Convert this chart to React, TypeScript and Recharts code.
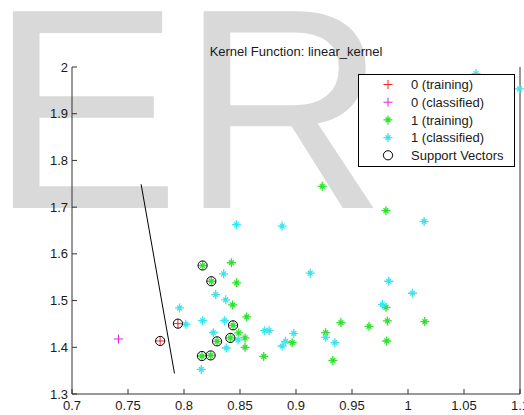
import { ScatterChart, Scatter, XAxis, YAxis, ReferenceLine, Legend } from "recharts"

type Pt = [number, number]

const title = "Kernel Function: linear_kernel"
const backdrop = "ER"

// class 0, training set
const train0: Pt[] = [
  [0.7946, 1.4506],
  [0.7787, 1.4135],
]

// class 0, classified
const classified0: Pt[] = [[0.7415, 1.4178]]

// class 1, training set
const train1: Pt[] = [
  [0.8166, 1.5751], [0.8244, 1.5414], [0.8438, 1.447], [0.8295, 1.4127],
  [0.8414, 1.42], [0.816, 1.3813], [0.8238, 1.3826],
  [0.8423, 1.581], [0.847, 1.538], [0.8434, 1.4907], [0.856, 1.465],
  [0.8488, 1.4307], [0.8545, 1.42], [0.8545, 1.4], [0.8712, 1.3805],
  [0.8966, 1.4099], [0.9264, 1.4313], [0.9401, 1.4528], [0.9652, 1.4449],
  [0.9804, 1.4856], [0.9816, 1.4564], [0.981, 1.4135], [0.9329, 1.3719],
  [1.015, 1.455], [0.9234, 1.7446], [0.9803, 1.6925],
]

// class 1, classified
const classified1: Pt[] = [
  [0.8354, 1.5573], [0.8283, 1.5129], [0.8372, 1.5015], [0.796, 1.4843],
  [0.8017, 1.4491], [0.8166, 1.457], [0.8363, 1.457], [0.8262, 1.4313],
  [0.8483, 1.4157], [0.8378, 1.3985], [0.8154, 1.3526], [0.8721, 1.4356],
  [0.876, 1.4356], [0.8906, 1.4127], [0.8876, 1.4027], [0.8468, 1.6624],
  [0.8876, 1.6595], [0.898, 1.4299], [0.9264, 1.4213], [0.9347, 1.4099],
  [0.9771, 1.4914], [1.004, 1.5157], [1.0144, 1.6695], [0.9127, 1.5586],
  [0.9828, 1.5414], [1.0607, 1.986], [1.0995, 1.953],
]

const supportVectors: Pt[] = [
  [0.7946, 1.4506], [0.7787, 1.4135], [0.8166, 1.5751], [0.8244, 1.5414],
  [0.8438, 1.447], [0.8295, 1.4127], [0.8414, 1.42], [0.816, 1.3813],
  [0.8238, 1.3826],
]

// separating line
const boundary: Pt[] = [
  [0.7617, 1.749],
  [0.7915, 1.344],
]

const xTicks = [0.7, 0.75, 0.8, 0.85, 0.9, 0.95, 1, 1.05, 1.1]
const yTicks = [1.3, 1.4, 1.5, 1.6, 1.7, 1.8, 1.9, 2]

const FONT = '"Liberation Sans", Arial, Helvetica, sans-serif'
const AXIS = "#333"
const RED = "#ee2424"
const MAGENTA = "#e024e0"
const GREEN = "#2fe22f"
const CYAN = "#3ee3ee"

const rows = (pts: Pt[]) => pts.map(([x, y]) => ({ x, y }))
const fmt = (v: number) => String(+v.toFixed(2))

type Marker = "plus" | "star" | "circle"

function MarkerGlyph({ kind, cx, cy, color }: { kind: Marker; cx: number; cy: number; color: string }) {
  if (kind === "circle") {
    return <circle cx={cx} cy={cy} r={4.6} fill="none" stroke={color} strokeWidth={1} />
  }
  const r = 4.5
  let d = `M${cx - r},${cy}H${cx + r}M${cx},${cy - r}V${cy + r}`
  if (kind === "star") {
    const k = 2.4
    d += `M${cx - k},${cy - k}L${cx + k},${cy + k}M${cx - k},${cy + k}L${cx + k},${cy - k}`
  }
  return <path d={d} stroke={color} strokeWidth={kind === "star" ? 1.3 : 1} fill="none" />
}

const series: [string, Pt[]][] = [
  ["0 (training)", train0],
  ["0 (classified)", classified0],
  ["1 (training)", train1],
  ["1 (classified)", classified1],
  ["Support Vectors", supportVectors],
]

const styles: Record<string, { kind: Marker; color: string }> = {
  "0 (training)": { kind: "plus", color: RED },
  "0 (classified)": { kind: "plus", color: MAGENTA },
  "1 (training)": { kind: "star", color: GREEN },
  "1 (classified)": { kind: "star", color: CYAN },
  "Support Vectors": { kind: "circle", color: "#000" },
}

const seriesOrder = (name: string) => series.findIndex(([n]) => n === name)

function shapeFor(name: string) {
  const s = styles[name]
  return (p: any) => <MarkerGlyph kind={s.kind} cx={p.cx} cy={p.cy} color={s.color} />
}

function BoxLegend({ payload }: { payload?: any[] }) {
  // keep the plotting order rather than the alphabetical one
  const items = [...(payload ?? [])].sort((a, b) => seriesOrder(String(a.value)) - seriesOrder(String(b.value)))
  return (
    <svg width={157} height={93} style={{ display: "block" }}>
      <rect x={0.5} y={0.5} width={156} height={92} fill="#fff" stroke="#000" strokeWidth={1} />
      {items.map((item, i) => {
        const name = String(item.value)
        const s = styles[name]
        const cy = 10.5 + i * 17.7
        return (
          <g key={name}>
            {s && <MarkerGlyph kind={s.kind} cx={30} cy={cy} color={s.color} />}
            <text x={53} y={cy} dy="0.36em" fontSize={13} fontFamily={FONT} fill="#1a1a1a">
              {name}
            </text>
          </g>
        )
      })}
    </svg>
  )
}

export default function App() {
  const tickStyle = { fontSize: 13, fontFamily: FONT, fill: "#1a1a1a" }
  return (
    <div style={{ position: "fixed", left: 0, top: 0, width: 524, height: 415, overflow: "hidden", background: "#fff" }}>
      <svg width={524} height={415} style={{ position: "absolute", left: 0, top: 0 }}>
        <text x={-10.6} y={208} fontSize={286} fontFamily={FONT} fill="#d9d9d9">
          {backdrop}
        </text>
      </svg>
      <div style={{ position: "absolute", left: 0, top: 0 }}>
        <ScatterChart width={560} height={415} margin={{ top: 67, right: 0, bottom: 0, left: 0 }}>
          <XAxis
            xAxisId="b"
            type="number"
            dataKey="x"
            domain={[0.7, 1.1]}
            ticks={xTicks}
            tickFormatter={fmt}
            height={21}
            tickSize={-5}
            tickMargin={12}
            tick={tickStyle}
            axisLine={{ stroke: AXIS }}
            tickLine={{ stroke: AXIS }}
          />
          <XAxis
            xAxisId="t"
            orientation="top"
            type="number"
            domain={[0.7, 1.1]}
            ticks={xTicks}
            height={0}
            tickSize={-5}
            tick={false}
            axisLine={{ stroke: AXIS }}
            tickLine={{ stroke: AXIS }}
          />
          <YAxis
            yAxisId="l"
            type="number"
            dataKey="y"
            domain={[1.3, 2]}
            ticks={yTicks}
            tickFormatter={fmt}
            width={72}
            tickSize={-5}
            tickMargin={9}
            tick={tickStyle}
            axisLine={{ stroke: AXIS }}
            tickLine={{ stroke: AXIS }}
          />
          <YAxis
            yAxisId="r"
            orientation="right"
            type="number"
            domain={[1.3, 2]}
            ticks={yTicks}
            width={40}
            tickSize={-5}
            tick={false}
            axisLine={{ stroke: AXIS }}
            tickLine={{ stroke: AXIS }}
          />
          <ReferenceLine
            xAxisId="b"
            yAxisId="l"
            segment={boundary.map(([x, y]) => ({ x, y }))}
            stroke="#000"
            strokeWidth={1}
            ifOverflow="visible"
          />
          {series.map(([name, pts]) => (
            <Scatter
              key={name}
              name={name}
              xAxisId="b"
              yAxisId="l"
              data={rows(pts)}
              shape={shapeFor(name)}
              fill={styles[name].color}
              isAnimationActive={false}
            />
          ))}
          <Legend
            layout="horizontal"
            verticalAlign="middle"
            align="center"
            wrapperStyle={{ left: 358, top: 74, width: 157, height: 93 }}
            content={(props: any) => <BoxLegend payload={props.payload} />}
          />
        </ScatterChart>
      </div>
      <div
        style={{
          position: "absolute",
          left: 72,
          width: 448,
          top: 44,
          textAlign: "center",
          fontFamily: FONT,
          fontSize: 13,
          color: "#1a1a1a",
          lineHeight: "16px",
        }}
      >
        {title}
      </div>
    </div>
  )
}
